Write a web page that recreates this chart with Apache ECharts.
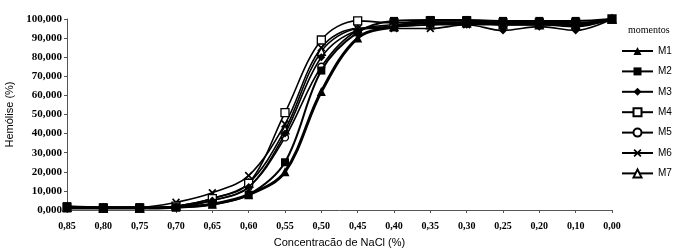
<!DOCTYPE html>
<html><head><meta charset="utf-8">
<script src="https://cdn.jsdelivr.net/npm/echarts@6/dist/echarts.min.js"></script>
<style>html,body{margin:0;padding:0;background:#fff}#c{width:674px;height:250px}</style>
</head><body><div id="c"></div>
<script>
const categories = ['0,85','0,80','0,75','0,70','0,65','0,60','0,55','0,50','0,45','0,40','0,35','0,30','0,25','0,20','0,10','0,00'];
const M1 = [1,1,1,1.5,3,8,20,62,90,96,98,98,98,98,97,100];
const M2 = [2,1.5,1.5,1.5,3,8,25,73,93,99,99.5,99.5,99,99,99,100];
const M3 = [1.5,1,1,1.5,5,12,40,80,94,96,97,97,94,96,94,100];
const M4 = [1.5,1,1,2,6,14,51,89,99,98,99,99,98,98,98,100];
const M5 = [1,1,1,2,5,12,38,75,94,97,98,98,97,97,97,100];
const M6 = [1.5,1.5,1.5,4,9,18,45,85,95,95,95,97,97,97,96,100];
const M7 = [1.5,1,1,2,6,14,42,83,95,96,97,98,97,97,97,100];
const seriesNames = ['M1','M2','M3','M4','M5','M6','M7'];
const seriesData = [M1,M2,M3,M4,M5,M6,M7];

const xPath = 'path://M0,1.5L1.5,0L5,3.5L8.5,0L10,1.5L6.5,5L10,8.5L8.5,10L5,6.5L1.5,10L0,8.5L3.5,5Z';
const styles = [
  {symbol:'triangle', size:9, fill:'#000', width:3},
  {symbol:'rect', size:8, fill:'#000', width:2},
  {symbol:'diamond', size:8, fill:'#000', width:1.6},
  {symbol:'rect', size:8, fill:'#fff', width:1.6},
  {symbol:'circle', size:7, fill:'#fff', width:1.6},
  {symbol:xPath, size:8, fill:'#000', width:1.6},
  {symbol:'triangle', size:8, fill:'#fff', width:1.6}
];

const chart = echarts.init(document.getElementById('c'), null, {renderer:'canvas'});
chart.setOption({
  animation:false,
  backgroundColor:'#fff',
  grid:{left:67, right:62, top:19, bottom:40, containLabel:false, outerBoundsMode:'none'},
  xAxis:{
    type:'category', data:categories, boundaryGap:false,
    name:'Concentracão de NaCl (%)', nameLocation:'middle', nameGap:27,
    nameTextStyle:{fontFamily:'Liberation Sans', fontSize:11, color:'#000'},
    axisLine:{lineStyle:{color:'#555', width:1}},
    axisTick:{show:true, length:3, lineStyle:{color:'#555'}},
    axisLabel:{fontFamily:'Liberation Serif', fontSize:10, color:'#000', margin:11, fontWeight:'bold'}
  },
  yAxis:{
    type:'value', min:0, max:100, interval:10,
    name:'Hemólise (%)', nameLocation:'middle', nameGap:45, nameRotate:90,
    nameTextStyle:{fontFamily:'Liberation Sans', fontSize:11, color:'#000'},
    axisLine:{show:true, lineStyle:{color:'#555', width:1}},
    axisTick:{show:true, length:3, lineStyle:{color:'#555'}},
    splitLine:{show:false},
    axisLabel:{fontFamily:'Liberation Serif', fontSize:11, color:'#000', margin:5, fontWeight:'bold',
      formatter:v=>v.toFixed(3).replace('.',',')}
  },
  legend:{
    orient:'vertical', left:621, top:46, padding:0, itemWidth:31, itemHeight:10, itemGap:10.4,
    textStyle:{fontFamily:'Liberation Sans', fontSize:10, color:'#000'},
    data:seriesNames
  },
  graphic:[{type:'text', left:628, top:25, style:{text:'momentos', font:'10px "Liberation Serif"', fill:'#000'}}],
  series: seriesNames.map((n,i)=>({
    name:n, type:'line', data:seriesData[i], smooth:0.35,
    symbol:styles[i].symbol, symbolSize:styles[i].size, showSymbol:true,
    lineStyle:{color:'#000', width:styles[i].width},
    itemStyle:{color:styles[i].fill, borderColor:'#000', borderWidth: styles[i].fill==='#fff'?1.3:0},
    z: 10-i
  }))
});
</script></body></html>
